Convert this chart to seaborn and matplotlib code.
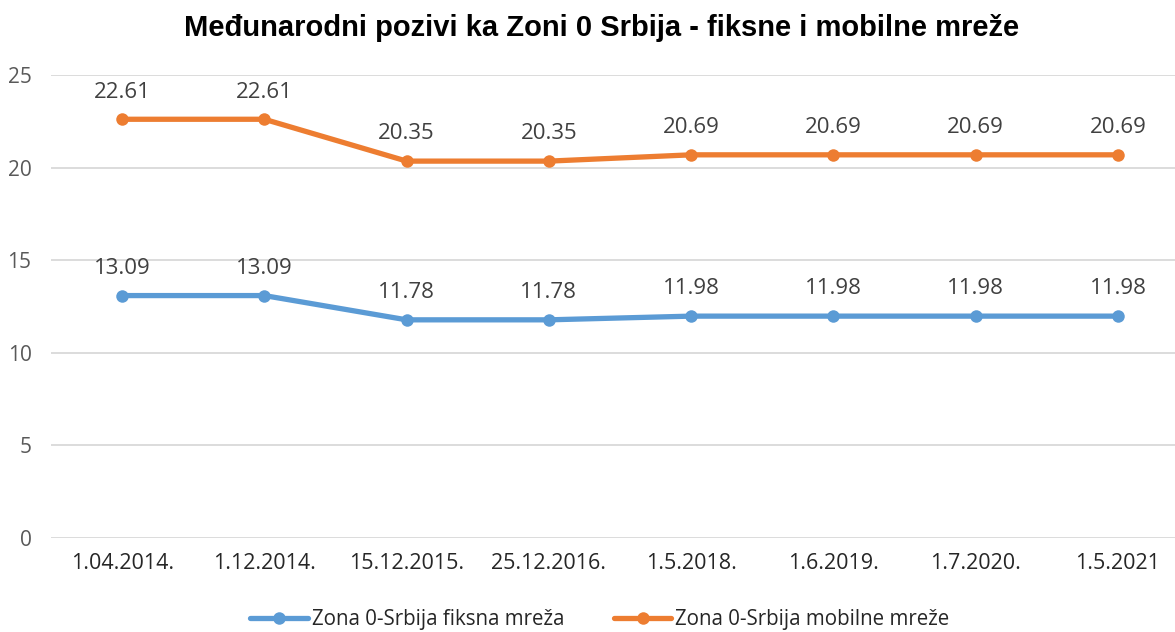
import pandas as pd
import seaborn as sns
import matplotlib.pyplot as plt

datumi = ["1.04.2014.", "1.12.2014.", "15.12.2015.", "25.12.2016.",
          "1.5.2018.", "1.6.2019.", "1.7.2020.", "1.5.2021"]
fiksna = [13.09, 13.09, 11.78, 11.78, 11.98, 11.98, 11.98, 11.98]
mobilne = [22.61, 22.61, 20.35, 20.35, 20.69, 20.69, 20.69, 20.69]
serije = ["Zona 0-Srbija fiksna mreža", "Zona 0-Srbija mobilne mreže"]
boje = ["#5B9BD5", "#ED7D31"]

df = pd.DataFrame({
    "datum": datumi * 2,
    "vrednost": fiksna + mobilne,
    "serija": [serije[0]] * len(datumi) + [serije[1]] * len(datumi),
})
df["poz"] = list(range(len(datumi))) * 2

sns.set_style("white")
plt.rcParams["font.family"] = ["Open Sans", "DejaVu Sans"]

fig = plt.figure(figsize=(11.75, 6.32), dpi=100)
ax = fig.add_axes([51 / 1175, 1 - 538 / 632, 1138 / 1175, 463 / 632])

sns.lineplot(data=df, x="poz", y="vrednost", hue="serija", palette=boje,
             marker="o", markersize=9, markeredgewidth=0, linewidth=3.8,
             ax=ax, legend=True)

# oznake vrednosti iznad tacaka
for vals in (fiksna, mobilne):
    for i, v in enumerate(vals):
        ax.annotate(f"{v:.2f}", (i, v), xytext=(0, 12), textcoords="offset points",
                    ha="center", va="bottom", fontsize=16, color="#404040")

ax.set_xlim(-0.5, len(datumi) - 0.5)
ax.set_ylim(0, 25)
ax.set_yticks(range(0, 26, 5))
ax.set_xticks(range(len(datumi)))
ax.set_xticklabels(datumi)
ax.tick_params(axis="x", labelsize=15.5, labelcolor="#262626", length=0, pad=11)
ax.tick_params(axis="y", labelsize=15, labelcolor="#595959", length=0, pad=14)
ax.grid(axis="y", color="#D9D9D9", linewidth=1.3)
for s in ax.spines.values():
    s.set_visible(False)
ax.set_xlabel("")
ax.set_ylabel("")

leg = ax.legend(loc="center", bbox_to_anchor=(600 / 1175, 1 - 620 / 632),
                bbox_transform=fig.transFigure, ncol=2, frameon=False,
                fontsize=14.8, handlelength=2.8, columnspacing=2.4, handletextpad=0.2)
for t in leg.get_texts():
    t.set_color("#262626")

fig.text(602 / 1175, 1 - 28 / 632, "Međunarodni pozivi ka Zoni 0 Srbija - fiksne i mobilne mreže",
         ha="center", va="center", fontsize=21, fontweight="bold", color="#000000",
         family=["Liberation Sans", "DejaVu Sans"])

fig.savefig("out.png", dpi=100)
